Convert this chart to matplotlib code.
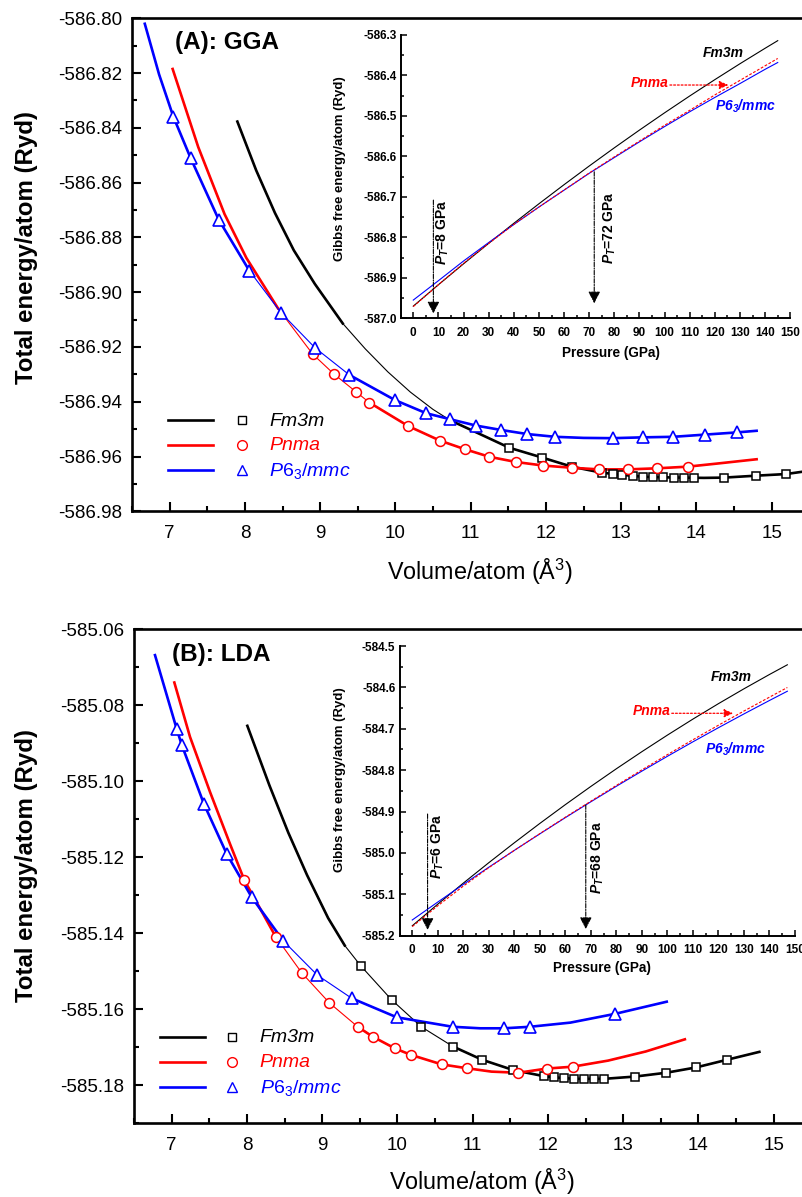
import numpy as np
import matplotlib
matplotlib.use("Agg")
import matplotlib.pyplot as plt
from matplotlib.ticker import MultipleLocator

plt.rcParams['font.family'] = ['Liberation Sans', 'DejaVu Sans']
plt.rcParams['mathtext.fontset'] = 'custom'
plt.rcParams['mathtext.rm'] = 'Liberation Sans'
plt.rcParams['mathtext.it'] = 'Liberation Sans:italic'
plt.rcParams['mathtext.bf'] = 'Liberation Sans:bold'
plt.rcParams['mathtext.bfit'] = 'Liberation Sans:italic:bold'
plt.rcParams['axes.unicode_minus'] = False

# ---------------- (A) GGA : total energy vs volume ----------------
gga_fm3m_v = [11.514, 11.953, 12.343, 12.742, 12.888, 13.016, 13.162, 13.295, 13.428,
              13.561, 13.703, 13.836, 13.968, 14.367, 14.79, 15.19]
gga_fm3m_e = [-586.9568, -586.9604, -586.9637, -586.9659, -586.9664, -586.9667, -586.9671,
              -586.9674, -586.9675, -586.9676, -586.9677, -586.9677, -586.9677, -586.9677,
              -586.9670, -586.9664]
gga_fm3m_fit_v = [7.90, 8.15, 8.40, 8.65, 8.93, 9.30, 9.60, 9.90, 10.20, 10.50, 10.73, 11.10,
                  11.514, 11.953, 12.343, 12.742, 13.016, 13.295, 13.561, 13.836, 14.10,
                  14.367, 14.79, 15.19, 15.50]
gga_fm3m_fit_e = [-586.8377, -586.8555, -586.8711, -586.8847, -586.8970, -586.9114,
                  -586.9207, -586.9291, -586.9365, -586.9428, -586.9468, -586.9515,
                  -586.9568, -586.9604, -586.9637, -586.9659, -586.9667, -586.9674,
                  -586.9676, -586.9677, -586.9678, -586.9677, -586.9670, -586.9664,
                  -586.9652]

gga_pnma_v = [8.901, 9.184, 9.473, 9.654, 10.172, 10.593, 10.92, 11.249, 11.603, 11.966,
              12.343, 12.71, 13.087, 13.481, 13.885]
gga_pnma_e = [-586.9226, -586.9299, -586.9363, -586.9403, -586.9489, -586.9542, -586.9573,
              -586.9601, -586.9620, -586.9633, -586.9641, -586.9647, -586.9647, -586.9643,
              -586.9637]
gga_pnma_fit_v = [7.04, 7.38, 7.73, 8.02, 8.44, 8.901, 9.184, 9.473, 9.654, 10.172, 10.593,
                  10.92, 11.249, 11.603, 11.966, 12.343, 12.71, 13.087, 13.481, 13.885,
                  14.30, 14.80]
gga_pnma_fit_e = [-586.8185, -586.8470, -586.8715, -586.8875, -586.9059, -586.9226,
                  -586.9299, -586.9363, -586.9403, -586.9489, -586.9542, -586.9573,
                  -586.9601, -586.9620, -586.9633, -586.9641, -586.9647, -586.9647,
                  -586.9643, -586.9637, -586.9625, -586.9610]

gga_p63_v = [7.049, 7.28, 7.652, 8.058, 8.48, 8.932, 9.388, 9.995, 10.41, 10.73, 11.071,
             11.404, 11.753, 12.121, 12.888, 13.287, 13.694, 14.115, 14.536]
gga_p63_e = [-586.8359, -586.8511, -586.8735, -586.8921, -586.9075, -586.9203, -586.9302,
             -586.9394, -586.9442, -586.9464, -586.9487, -586.9503, -586.9518, -586.9528,
             -586.9533, -586.9530, -586.9528, -586.9520, -586.9512]
gga_p63_fit_v = [6.67, 6.86] + gga_p63_v[:14] + [12.50] + gga_p63_v[14:] + [14.80]
gga_p63_fit_e = [-586.8020, -586.8205] + gga_p63_e[:14] + [-586.9532] + gga_p63_e[14:] \
    + [-586.9506]

# ---------------- (B) LDA : total energy vs volume ----------------
lda_fm3m_v = [9.515, 9.923, 10.317, 10.739, 11.129, 11.541, 11.948, 12.081, 12.214, 12.347,
              12.48, 12.613, 12.746, 13.158, 13.570, 13.968, 14.376]
lda_fm3m_e = [-585.1486, -585.1575, -585.1646, -585.1698, -585.1733, -585.1760, -585.1776,
              -585.1779, -585.1781, -585.1783, -585.1783, -585.1783, -585.1783, -585.1777,
              -585.1767, -585.1753, -585.1733]
lda_fm3m_fit_v = [8.006, 8.30, 8.55, 8.80, 9.08, 9.30] + lda_fm3m_v + [14.81]
lda_fm3m_fit_e = [-585.0854, -585.1011, -585.1135, -585.1247, -585.1360, -585.1432] \
    + lda_fm3m_e + [-585.1712]

lda_pnma_v = [7.966, 8.383, 8.729, 9.096, 9.473, 9.672, 9.968, 10.181, 10.589, 10.921,
              11.607, 11.985, 12.331]
lda_pnma_e = [-585.1260, -585.1409, -585.1504, -585.1583, -585.1646, -585.1672, -585.1703,
              -585.1720, -585.1745, -585.1755, -585.1767, -585.1756, -585.1751]
lda_pnma_fit_v = [7.036, 7.244, 7.51, 7.776] + lda_pnma_v[:10] + [11.25] + lda_pnma_v[10:] \
    + [12.80, 13.30, 13.82]
lda_pnma_fit_e = [-585.0740, -585.0883, -585.1028, -585.1165] + lda_pnma_e[:10] \
    + [-585.1764] + lda_pnma_e[10:] + [-585.1735, -585.1711, -585.1679]

lda_p63_v = [7.067, 7.134, 7.43, 7.732, 8.064, 8.484, 8.936, 9.393, 9.991, 10.735, 11.417,
             11.762, 12.892]
lda_p63_e = [-585.0862, -585.0904, -585.1060, -585.1191, -585.1305, -585.1420, -585.1510,
             -585.1571, -585.1621, -585.1646, -585.1650, -585.1646, -585.1612]
lda_p63_fit_v = [6.779] + lda_p63_v[:10] + [11.10] + lda_p63_v[10:12] + [12.30] \
    + lda_p63_v[12:] + [13.579]
lda_p63_fit_e = [-585.0668] + lda_p63_e[:10] + [-585.1650] + lda_p63_e[10:12] \
    + [-585.1635] + lda_p63_e[12:] + [-585.1580]

# ---------------- insets : Gibbs free energy vs pressure ----------------
pressure = [0, 10, 20, 30, 40, 50, 60, 70, 80, 90, 100, 110, 120, 130, 140, 145]
gga_g_fm3m = [-586.970, -586.9171, -586.8654, -586.8148, -586.7653, -586.7170, -586.6698,
              -586.6237, -586.5787, -586.5349, -586.4922, -586.4506, -586.4102, -586.3709,
              -586.3327, -586.3140]
gga_g_pnma = [-586.971, -586.917, -586.864, -586.815, -586.768, -586.725, -586.683, -586.641,
              -586.601, -586.562, -586.523, -586.486, -586.448, -586.412, -586.376, -586.358]
gga_g_p63 = [-586.955, -586.9071, -586.8584, -586.8128, -586.7683, -586.7250, -586.6833,
             -586.6417, -586.6027, -586.5639, -586.5262, -586.4896, -586.4542, -586.4199,
             -586.3847, -586.3680]

pressure_lda = [0, 10, 20, 30, 40, 50, 60, 70, 80, 90, 100, 110, 120, 130, 140, 147]
lda_g_fm3m = [-585.176, -585.1238, -585.0730, -585.0236, -584.9755, -584.9287, -584.8833,
              -584.8393, -584.7966, -584.7553, -584.7153, -584.6766, -584.6393, -584.6034,
              -584.5688, -584.5454]
lda_g_pnma = [-585.178, -585.1277, -585.0802, -585.0356, -584.9938, -584.9534, -584.9137,
              -584.8749, -584.8369, -584.7993, -584.7625, -584.7265, -584.6914, -584.6571,
              -584.6236, -584.6003]
lda_g_p63 = [-585.162, -585.1187, -585.0762, -585.0346, -584.9938, -584.9539, -584.9147,
             -584.8764, -584.8389, -584.8023, -584.7665, -584.7315, -584.6974, -584.6641,
             -584.6316, -584.6093]

gga_transitions = [8, 72]
lda_transitions = [6, 68]

FIG_W, FIG_H = 802, 1197
fig = plt.figure(figsize=(FIG_W / 100, FIG_H / 100), dpi=100)


def box(left, top, right, bottom):
    """Axes rectangle from pixel edges."""
    return [left / FIG_W, 1 - bottom / FIG_H, (right - left) / FIG_W, (bottom - top) / FIG_H]


def fpos(x, y):
    return x / FIG_W, 1 - y / FIG_H


def draw_fit(ax, v, e, color, thin_span):
    v = np.asarray(v)
    e = np.asarray(e)
    ax.plot(v, e, color=color, lw=0.8, zorder=2, solid_capstyle='butt')
    lo, hi = thin_span
    for mask in (v <= lo, v >= hi):
        ax.plot(v[mask], e[mask], color=color, lw=1.9, zorder=2, solid_joinstyle='round')


def style_main(ax, ylo, yhi):
    ax.set_xlim(6.5, 15.5)
    ax.set_ylim(ylo, yhi)
    ax.xaxis.set_major_locator(MultipleLocator(1))
    ax.xaxis.set_minor_locator(MultipleLocator(0.5))
    ax.yaxis.set_major_locator(MultipleLocator(0.02))
    ax.yaxis.set_minor_locator(MultipleLocator(0.01))
    ax.yaxis.set_major_formatter(matplotlib.ticker.FormatStrFormatter('%.2f'))
    ax.xaxis.set_major_formatter(matplotlib.ticker.FormatStrFormatter('%d'))
    for s in ax.spines.values():
        s.set_linewidth(1.9)
    ax.tick_params(which='both', direction='in', width=1.5, labelsize=13.5)
    ax.tick_params(which='major', length=6.5)
    ax.tick_params(which='minor', length=3.5)
    ax.tick_params(axis='y', pad=7)
    ax.tick_params(axis='x', pad=10)


def style_inset(ax, ylo, yhi, xmax):
    ax.set_xlim(-5, xmax)
    ax.set_ylim(ylo, yhi)
    ax.spines['top'].set_visible(False)
    ax.spines['right'].set_visible(False)
    for s in ('left', 'bottom'):
        ax.spines[s].set_linewidth(1.4)
    xt = np.arange(0, 151, 10)
    ax.set_xticks(xt)
    ax.set_xticklabels([str(t) for t in xt], fontweight='bold', fontsize=8.5)
    yt = np.round(np.arange(ylo, yhi + 1e-6, 0.1), 1)
    ax.set_yticks(yt)
    ax.set_yticklabels(['%.1f' % t for t in yt], fontweight='bold', fontsize=8.5)
    ax.xaxis.set_minor_locator(MultipleLocator(5))
    ax.yaxis.set_minor_locator(MultipleLocator(0.05))
    ax.tick_params(which='both', direction='in', width=1.1)
    ax.tick_params(which='major', length=4.5)
    ax.tick_params(which='minor', length=2.5)
    ax.tick_params(axis='y', pad=3)
    ax.tick_params(axis='x', pad=6)
    ax.patch.set_alpha(0)


def legend_rows(x_line, x_mark, x_text, ys):
    entries = [('k', 's', 6.0, r'Fm3m'), ('red', 'o', 7.0, r'Pnma'),
               ('blue', '^', 7.5, r'$\mathit{P6_3/mmc}$')]
    for (c, m, ms, lab), y in zip(entries, ys):
        fx0, fy = fpos(x_line[0], y)
        fx1, _ = fpos(x_line[1], y)
        fig.add_artist(plt.Line2D([fx0, fx1], [fy, fy], color=c, lw=1.9,
                                  transform=fig.transFigure))
        fm, _ = fpos(x_mark, y)
        fig.add_artist(plt.Line2D([fm], [fy], marker=m, mfc='none', mec=c, mew=1.0,
                                  ms=ms, transform=fig.transFigure))
        ft, fty = fpos(x_text, y + 1)
        fig.text(ft, fty, lab, color=c, fontsize=14, fontstyle='italic', va='center', ha='left')


def inset_notes(ax, fm_xy, pn_xy, pn_arrow, p6_xy, arrows, arrow_tops, tips, label_xy):
    ax.text(*fm_xy, 'Fm3m', fontsize=10, fontstyle='italic', fontweight='bold',
            ha='center', va='center', color='k')
    ax.text(*pn_xy, 'Pnma', fontsize=10, fontstyle='italic', fontweight='bold',
            ha='center', va='center', color='red')
    ax.annotate('', xy=(pn_arrow[1], pn_arrow[2]), xytext=(pn_arrow[0], pn_arrow[2]),
                arrowprops=dict(arrowstyle='-|>,head_length=0.45,head_width=0.2', color='red',
                                lw=0.9, linestyle=(0, (1.5, 1.5)), mutation_scale=12,
                                shrinkA=0, shrinkB=0))
    ax.text(*p6_xy, r'$\mathbfit{P6_3/mmc}$', fontsize=10, ha='center', va='center',
            color='blue')
    for p, top, tip, (lx, ly) in zip(arrows, arrow_tops, tips, label_xy):
        ax.annotate('', xy=(p, tip), xytext=(p, top),
                    arrowprops=dict(arrowstyle='-|>,head_length=0.55,head_width=0.28',
                                    color='k', lw=0.8, linestyle=(0, (4, 1.2, 1, 1.2)),
                                    mutation_scale=13, shrinkA=0, shrinkB=0))
        ax.text(lx, ly, r'$\mathbfit{P}_\mathbfit{T}$=%d GPa' % p, rotation=90,
                fontsize=10, fontweight='bold', ha='center', va='center')


def draw_points(ax, fm_v, fm_e, pn_v, pn_e, p6_v, p6_e):
    ax.plot(fm_v, fm_e, 's', mfc='white', mec='k', mew=1.1, ms=6.3, zorder=3)
    ax.plot(pn_v, pn_e, 'o', mfc='white', mec='red', mew=1.1, ms=7.1, zorder=3)
    ax.plot(p6_v, p6_e, '^', mfc='white', mec='blue', mew=1.2, ms=8.1, zorder=3)


# ======== panel A ========
axA = fig.add_axes(box(132, 18.3, 809.3, 511.3))
style_main(axA, -586.98, -586.80)
draw_fit(axA, gga_fm3m_fit_v, gga_fm3m_fit_e, 'k', (9.30, 10.73))
draw_fit(axA, gga_pnma_fit_v, gga_pnma_fit_e, 'red', (8.44, 9.654))
draw_fit(axA, gga_p63_fit_v, gga_p63_fit_e, 'blue', (8.058, 9.388))
draw_points(axA, gga_fm3m_v, gga_fm3m_e, gga_pnma_v, gga_pnma_e, gga_p63_v, gga_p63_e)

insA = fig.add_axes(box(400.7, 35, 790.3, 318.3))
style_inset(insA, -587.0, -586.3, 150)
insA.plot(pressure, gga_g_fm3m, color='k', lw=0.8)
insA.plot(pressure, gga_g_p63, color='blue', lw=0.8)
insA.plot(pressure, gga_g_pnma, color='red', lw=0.8, ls=(0, (2.5, 1.5)))
inset_notes(insA, (123.2, -586.345), (94.2, -586.419), (102.1, 125.4, -586.4236),
            (132, -586.4754), gga_transitions, [-586.708, -586.638], [-586.988, -586.963],
            [(11.9, -586.787), (78.0, -586.777)])

# ======== panel B ========
axB = fig.add_axes(box(134, 629.3, 811.3, 1123.3))
style_main(axB, -585.19, -585.06)
draw_fit(axB, lda_fm3m_fit_v, lda_fm3m_fit_e, 'k', (9.30, 10.739))
draw_fit(axB, lda_pnma_fit_v, lda_pnma_fit_e, 'red', (8.383, 9.473))
draw_fit(axB, lda_p63_fit_v, lda_p63_fit_e, 'blue', (8.484, 9.393))
draw_points(axB, lda_fm3m_v, lda_fm3m_e, lda_pnma_v, lda_pnma_e, lda_p63_v, lda_p63_e)

insB = fig.add_axes(box(399.5, 646, 795, 935.7))
style_inset(insB, -585.2, -584.5, 150)
insB.plot(pressure_lda, lda_g_fm3m, color='k', lw=0.8)
insB.plot(pressure_lda, lda_g_p63, color='blue', lw=0.8)
insB.plot(pressure_lda, lda_g_pnma, color='red', lw=0.8, ls=(0, (2.5, 1.5)))
inset_notes(insB, (124.9, -584.5756), (93.8, -584.6563), (101.7, 125.8, -584.6626),
            (126.5, -584.7495), lda_transitions, [-584.906, -584.884], [-585.186, -585.184],
            [(10.2, -584.985), (72.9, -585.010)])

# ======== labels ========
fig.text(*fpos(175, 42.5), '(A): GGA', fontsize=17.5, fontweight='bold', va='center')
fig.text(*fpos(171.7, 654), '(B): LDA', fontsize=17.5, fontweight='bold', va='center')
for yc in (248, 866):
    fig.text(*fpos(27, yc), 'Total energy/atom (Ryd)', rotation=90, fontsize=17.3,
             fontweight='bold', ha='center', va='center')
for xc, yc in ((479.5, 571.7), (482, 1181.7)):
    fig.text(*fpos(xc, yc), r'Volume/atom (Å$\mathregular{^3}$)', fontsize=16.8,
             ha='center', va='center')
for yc in (169, 780):
    fig.text(*fpos(340, yc), 'Gibbs free energy/atom (Ryd)', rotation=90, fontsize=9.5,
             fontweight='bold', ha='center', va='center')
for xc, yc in ((610.7, 352.7), (601.7, 968.3)):
    fig.text(*fpos(xc, yc), 'Pressure (GPa)', fontsize=9.8, fontweight='bold',
             ha='center', va='center')

legend_rows((167.7, 213.3), 241.7, 269, (420, 445, 470))
legend_rows((159.6, 204.6), 231.7, 259.8, (1036.7, 1061.7, 1086.7))

fig.savefig('out.png', dpi=100)
